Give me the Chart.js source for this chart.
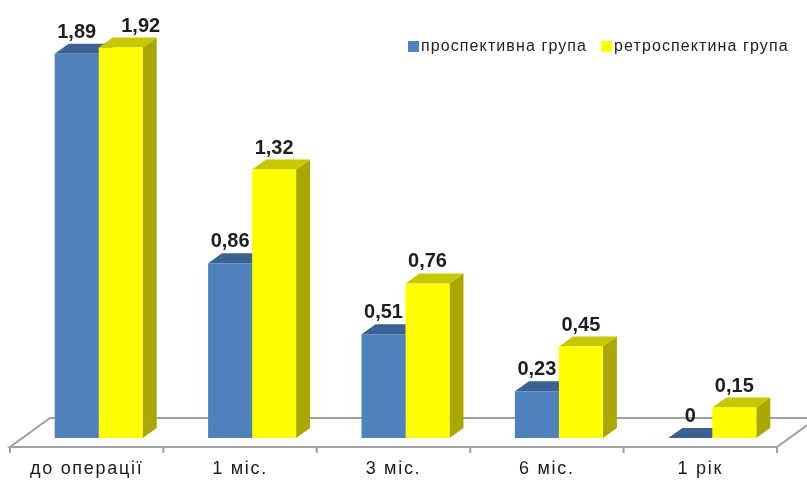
<!DOCTYPE html>
<html>
<head>
<meta charset="utf-8">
<script src="https://cdn.jsdelivr.net/npm/chart.js@4/dist/chart.umd.min.js"></script>
<style>
html,body{margin:0;padding:0;background:#fff;}
#wrap{width:807px;height:483px;}
</style>
</head>
<body>
<div id="wrap"><canvas id="c" width="807" height="483"></canvas></div>
<script>
const categories = ['до операції', '1 міс.', '3 міс.', '6 міс.', '1 рік'];
const seriesNames = ['проспективна група', 'ретроспектина група'];
const prospective = [1.89, 0.86, 0.51, 0.23, 0];
const retrospective = [1.92, 1.32, 0.76, 0.45, 0.15];

const frontColors = ['#4f81bd', '#ffff00'];
const topColors = ['#3c6293', '#c8c800'];
const sideColors = ['#385a86', '#a8a800'];

const SHIFT = 12, DX = 14, DY = 10;

const threeD = {
  id: 'threeD',
  beforeDraw(chart) {
    chart.ctx.letterSpacing = '1.7px';
  },
  beforeDatasetsDraw(chart) {
    const ctx = chart.ctx, a = chart.chartArea;
    ctx.letterSpacing = '0px';
    ctx.save();
    // floor
    const fy = a.bottom + 9, by = a.bottom - 20, fdx = 40;
    ctx.beginPath();
    ctx.moveTo(a.left, fy);
    ctx.lineTo(a.right, fy);
    ctx.lineTo(a.right + fdx, by);
    ctx.lineTo(a.left + fdx, by);
    ctx.closePath();
    ctx.fillStyle = '#ffffff';
    ctx.fill();
    ctx.strokeStyle = '#a0a0a0';
    ctx.lineWidth = 2;
    ctx.stroke();
    // ticks
    const n = categories.length;
    ctx.beginPath();
    for (let i = 0; i <= n; i++) {
      const x = a.left + i * (a.right - a.left) / n;
      ctx.moveTo(x, fy);
      ctx.lineTo(x, fy + 6);
    }
    ctx.stroke();
    // tops and sides
    ctx.translate(SHIFT, 0);
    chart.data.datasets.forEach((ds, di) => {
      const meta = chart.getDatasetMeta(di);
      meta.data.forEach(el => {
        const p = el.getProps(['x', 'y', 'base', 'width'], true);
        const l = p.x - p.width / 2, r = p.x + p.width / 2;
        const t = Math.min(p.y, p.base), b = Math.max(p.y, p.base);
        ctx.fillStyle = sideColors[di];
        ctx.beginPath();
        ctx.moveTo(r, t); ctx.lineTo(r + DX, t - DY); ctx.lineTo(r + DX, b - DY); ctx.lineTo(r, b);
        ctx.closePath(); ctx.fill();
        ctx.fillStyle = topColors[di];
        ctx.beginPath();
        ctx.moveTo(l, t); ctx.lineTo(r, t); ctx.lineTo(r + DX, t - DY); ctx.lineTo(l + DX, t - DY);
        ctx.closePath(); ctx.fill();
      });
    });
    ctx.restore();
    ctx.save();
    ctx.translate(SHIFT, 0);
  },
  afterDatasetsDraw(chart, args, opts) {
    const ctx = chart.ctx;
    ctx.restore();
    ctx.save();
    // value labels
    ctx.font = 'bold 20px "Liberation Sans", Arial, sans-serif';
    ctx.fillStyle = '#1e1e1e';
    ctx.textAlign = 'center';
    ctx.textBaseline = 'alphabetic';
    chart.data.datasets.forEach((ds, di) => {
      const meta = chart.getDatasetMeta(di);
      meta.data.forEach((el, i) => {
        const p = el.getProps(['x', 'y'], true);
        const nudge = (opts.nudge && opts.nudge[di + '-' + i]) || 0;
        const txt = String(ds.data[i]).replace('.', ',');
        ctx.fillText(txt, p.x + SHIFT + nudge, p.y - 16);
      });
    });
    // legend
    ctx.font = '16px "Liberation Sans", Arial, sans-serif';
    ctx.letterSpacing = '1.1px';
    ctx.textAlign = 'left';
    ctx.textBaseline = 'middle';
    let x = 408;
    const ly = 47;
    chart.data.datasets.forEach((ds, di) => {
      ctx.fillStyle = frontColors[di];
      ctx.fillRect(x, ly - 6, 11, 11);
      ctx.fillStyle = '#222222';
      ctx.fillText(ds.label, x + 13, ly);
      x += 13 + ctx.measureText(ds.label).width + 14;
    });
    ctx.restore();
  }
};

new Chart(document.getElementById('c'), {
  type: 'bar',
  data: {
    labels: categories,
    datasets: [
      { label: seriesNames[0], data: prospective, backgroundColor: frontColors[0], borderWidth: 0,
        categoryPercentage: 0.5737, barPercentage: 1 },
      { label: seriesNames[1], data: retrospective, backgroundColor: frontColors[1], borderWidth: 0,
        categoryPercentage: 0.5737, barPercentage: 1 }
    ]
  },
  options: {
    responsive: false,
    animation: false,
    layout: { padding: { left: 10, right: 30, top: 11, bottom: 0 } },
    plugins: {
      legend: { display: false },
      tooltip: { enabled: false },
      threeD: { nudge: { '1-0': 20 } }
    },
    scales: {
      x: {
        grid: { display: false },
        border: { display: false },
        ticks: {
          color: '#1a1a1a',
          font: { family: '"Liberation Sans", Arial, sans-serif', size: 18 },
          padding: 12,
          maxRotation: 0,
          autoSkip: false
        },
        afterFit(scale) { scale.height = 45; }
      },
      y: {
        display: false,
        min: 0,
        max: 2.1
      }
    }
  },
  plugins: [threeD]
});
</script>
</body>
</html>
